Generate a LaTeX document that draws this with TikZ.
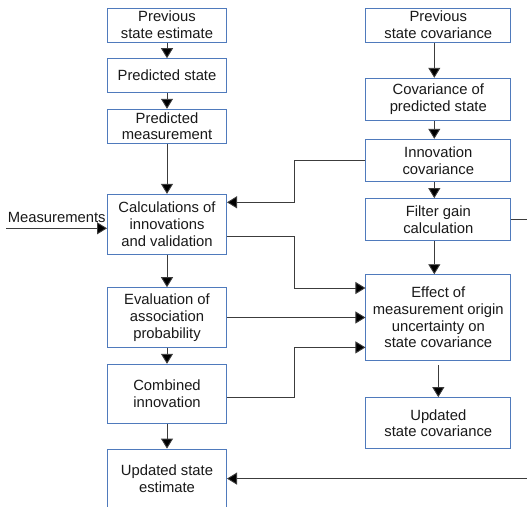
\documentclass[tikz,border=0pt]{standalone}
\usepackage{fontspec}
\setmainfont{Liberation Sans}
\usetikzlibrary{arrows.meta}
\definecolor{boxblue}{RGB}{79,122,188}
\definecolor{linegray}{RGB}{60,60,60}
\definecolor{txt}{RGB}{25,25,25}
\tikzset{
  box/.style={draw=boxblue, line width=1pt, fill=white, align=center, inner sep=0pt,
    text=txt, font=\fontsize{14.8}{16.7}\selectfont},
  lbox/.style={box, minimum width=119pt},
  rbox/.style={box, minimum width=144.7pt},
  conn/.style={draw=linegray, line width=0.9pt, -{Triangle[length=10pt,width=12pt,fill=black]}},
  lbl/.style={text=txt, font=\fontsize{14.8}{16.7}\selectfont, inner sep=0pt}
}
\begin{document}
\begin{tikzpicture}[x=1pt,y=-1pt]
\useasboundingbox (0,0) rectangle (527,506);
% left column
\node[lbox, minimum height=34pt] (L1) at (167,25) {Previous\\state estimate};
\node[lbox, minimum height=34pt] (L2) at (167,75.7) {Predicted state};
\node[lbox, minimum height=34pt] (L3) at (167,126.3) {Predicted\\measurement};
\node[lbox, minimum height=59.7pt] (L4) at (167,224.2) {Calculations of\\innovations\\and validation};
\node[lbox, minimum height=59.6pt] (L5) at (167,317.5) {Evaluation of\\association\\probability};
\node[lbox, minimum height=59pt] (L6) at (167,393.8) {Combined\\innovation};
\node[lbox, minimum height=59pt] (L7) at (167,478.6) {Updated state\\estimate};
% right column
\node[rbox, minimum height=34pt] (R1) at (438.3,25) {Previous\\state covariance};
\node[rbox, minimum height=42.4pt] (R2) at (438.3,99.5) {Covariance of\\predicted state};
\node[rbox, minimum height=42.4pt] (R3) at (438.3,160.5) {Innovation\\covariance};
\node[rbox, minimum height=42.3pt] (R4) at (438.3,219.8) {Filter gain\\calculation};
\node[rbox, minimum height=85.7pt] (R5) at (438.3,317.6) {Effect of\\measurement origin\\uncertainty on\\state covariance};
\node[rbox, minimum height=51.3pt] (R6) at (438.3,423.3) {Updated\\state covariance};
% measurements label
\node[lbl, anchor=base] (M) at (56.7,222.7) {Measurements};
\coordinate (m0) at (6,228.3);
\coordinate (jx) at (294,0);
\coordinate (L4in) at ([yshift=21.9pt]L4.east);
\coordinate (L4out) at ([yshift=-12.5pt]L4.east);
\coordinate (R5a) at ([yshift=29.6pt]R5.west);
\coordinate (R5c) at ([yshift=-29.8pt]R5.west);
\coordinate (L6out) at ([yshift=-3.9pt]L6.east);
\coordinate (fb1) at (540,219.8);
\coordinate (fb2) at (540,478.6);
% left vertical arrows
\draw[conn] (L1) -- (L2);
\draw[conn] (L2) -- (L3);
\draw[conn] (L3) -- (L4);
\draw[conn] (L4) -- (L5);
\draw[conn] (L5) -- (L6);
\draw[conn] (L6) -- (L7);
% right vertical arrows
\draw[conn] ([xshift=-4pt]R1.south) -- ([xshift=-4pt]R2.north);
\draw[conn] ([xshift=-4pt]R2.south) -- ([xshift=-4pt]R3.north);
\draw[conn] ([xshift=-4pt]R3.south) -- ([xshift=-4pt]R4.north);
\draw[conn] ([xshift=-4pt]R4.south) -- ([xshift=-4pt]R5.north);
\draw[conn] ([yshift=-4.3pt]R5.south) -- (R6.north);
% cross connectors
\draw[conn] (m0) -- (m0 -| L4.west);
\draw[conn] (R3.west) -| (L4in -| jx) -- (L4in);
\draw[conn] (L4out) -| (jx |- R5a) -- (R5a);
\draw[conn] (L5.east) -- (L5.east -| R5.west);
\draw[conn] (L6out) -| (jx |- R5c) -- (R5c);
\draw[conn] (R4.east) -- (fb1) -- (fb2) -- (L7.east);
\end{tikzpicture}
\end{document}
